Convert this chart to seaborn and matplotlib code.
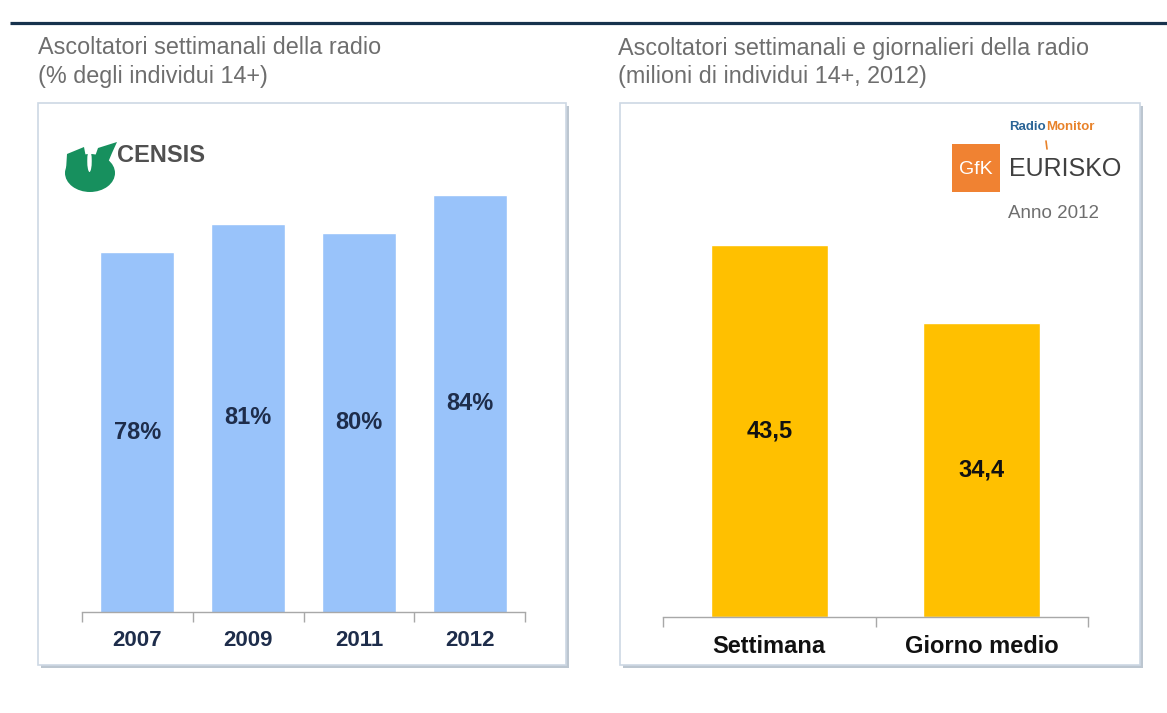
import matplotlib
matplotlib.use("Agg")
import matplotlib.pyplot as plt
import seaborn as sns
from matplotlib.patches import Rectangle, Ellipse, Polygon

# --- data ---------------------------------------------------------------
years = ["2007", "2009", "2011", "2012"]
weekly_share = [78, 81, 80, 84]          # % of individuals 14+
periods = ["Settimana", "Giorno medio"]
listeners_mln = [43.5, 34.4]             # millions of individuals 14+, 2012

left_title = ["Ascoltatori settimanali della radio", "(% degli individui 14+)"]
right_title = ["Ascoltatori settimanali e giornalieri della radio",
               "(milioni di individui 14+, 2012)"]

# --- style --------------------------------------------------------------
W, H = 1167, 713
sns.set_theme(style="white")
plt.rcParams["font.family"] = ["Liberation Sans", "DejaVu Sans"]

BLUE_BAR = "#99c3fa"
GOLD_BAR = "#ffc000"
NAVY_TXT = "#1e2d4b"
GREY_TXT = "#6e6e6e"
AXIS_GREY = "#a8a8a8"

fig = plt.figure(figsize=(W / 100, H / 100), dpi=100)
fig.patch.set_facecolor("white")


def px_rect(x0, y0, x1, y1):
    """Axes rectangle from pixel corners measured from the top-left."""
    return [x0 / W, 1 - y1 / H, (x1 - x0) / W, (y1 - y0) / H]


# canvas layer in pixel units for frames, titles and logos
bg = fig.add_axes([0, 0, 1, 1], zorder=0)
bg.set_xlim(0, W)
bg.set_ylim(H, 0)
bg.axis("off")

bg.plot([10, W], [23, 23], color="#17324d", lw=2.3, solid_capstyle="butt")

for x0, lines in [(38, left_title), (618, right_title)]:
    bg.text(x0, 48, lines[0], fontsize=16.8, color=GREY_TXT, va="center", ha="left")
    bg.text(x0, 76, lines[1], fontsize=16.8, color=GREY_TXT, va="center", ha="left")

# panel frames with a soft drop shadow
for x0, x1 in [(38, 566), (620, 1140)]:
    bg.add_patch(Rectangle((x0 + 3, 106), x1 - x0, 562, fc="#bcc6d0", ec="none"))
    bg.add_patch(Rectangle((x0, 103), x1 - x0, 562, fc="white", ec="#cdd8e4", lw=1.2))

# CENSIS mark
green = "#17905e"
bg.add_patch(Ellipse((90, 173), 50, 38, fc=green, ec="none"))
bg.add_patch(Polygon([(66, 170), (67, 154), (84, 147), (88, 168)], closed=True, fc=green, ec="none"))
bg.add_patch(Polygon([(92, 165), (98, 148), (117, 142), (112, 153), (104, 172)], closed=True, fc=green, ec="none"))
bg.add_patch(Ellipse((89.5, 161), 4.5, 22, fc="white", ec="none"))
bg.text(117, 155, "CENSIS", fontsize=17, fontweight="bold", color="#505050",
        va="center", ha="left")

# GfK Eurisko / RadioMonitor mark
bg.text(1046, 127, "Radio", fontsize=9.5, fontweight="bold", color="#2a6496", ha="right", va="center")
bg.text(1046, 127, "Monitor", fontsize=9.5, fontweight="bold", color="#e8822a", ha="left", va="center")
bg.add_patch(Rectangle((952, 144), 48, 48, fc="#f08232", ec="none"))
bg.text(976, 169, "GfK", fontsize=14, color="white", ha="center", va="center")
bg.text(1009, 169, "EURISKO", fontsize=18, color="#404040", ha="left", va="center")
bg.plot([1046, 1047], [141, 149], color="#e8822a", lw=1.2)
bg.text(1053, 213, "Anno 2012", fontsize=13.5, color=GREY_TXT, ha="center", va="center")


def style_axis(ax, labels, label_color, label_size):
    n = len(labels)
    ax.set_xlim(-0.5, n - 0.5)
    ax.patch.set_alpha(0)
    for side in ("left", "right", "top"):
        ax.spines[side].set_visible(False)
    ax.spines["bottom"].set_color(AXIS_GREY)
    ax.spines["bottom"].set_linewidth(1.0)
    ax.set_yticks([])
    ax.set_xlabel("")
    ax.set_ylabel("")
    ax.set_xticks(range(n))
    ax.set_xticklabels(labels, fontweight="bold", fontsize=label_size, color=label_color)
    ax.set_xticks([i - 0.5 for i in range(n + 1)], minor=True)
    ax.tick_params(axis="x", which="major", length=0, pad=13)
    ax.tick_params(axis="x", which="minor", length=7, width=1.0, color=AXIS_GREY,
                   direction="out", bottom=True)


# left panel: weekly share of listeners
LEFT_FLOOR = 40
ax1 = fig.add_axes(px_rect(82, 138.5, 525, 612), zorder=2)
sns.barplot(x=years, y=weekly_share, color=BLUE_BAR, saturation=1, width=0.67, ax=ax1)
ax1.set_ylim(LEFT_FLOOR, 90)
style_axis(ax1, years, NAVY_TXT, 16)
for i, v in enumerate(weekly_share):
    ax1.text(i, (v + LEFT_FLOOR) / 2, f"{v}%", ha="center", va="center",
             fontsize=17, fontweight="bold", color=NAVY_TXT)

# right panel: weekly vs average-day listeners (millions)
ax2 = fig.add_axes(px_rect(663, 147, 1088, 617), zorder=2)
sns.barplot(x=periods, y=listeners_mln, color=GOLD_BAR, saturation=1, width=0.55, ax=ax2)
ax2.set_ylim(0, 55)
style_axis(ax2, periods, "#111111", 17)
for i, v in enumerate(listeners_mln):
    ax2.text(i, v / 2, f"{v:.1f}".replace(".", ","), ha="center", va="center",
             fontsize=17, fontweight="bold", color="#111111")

fig.savefig("out.png", dpi=100, facecolor="white")
